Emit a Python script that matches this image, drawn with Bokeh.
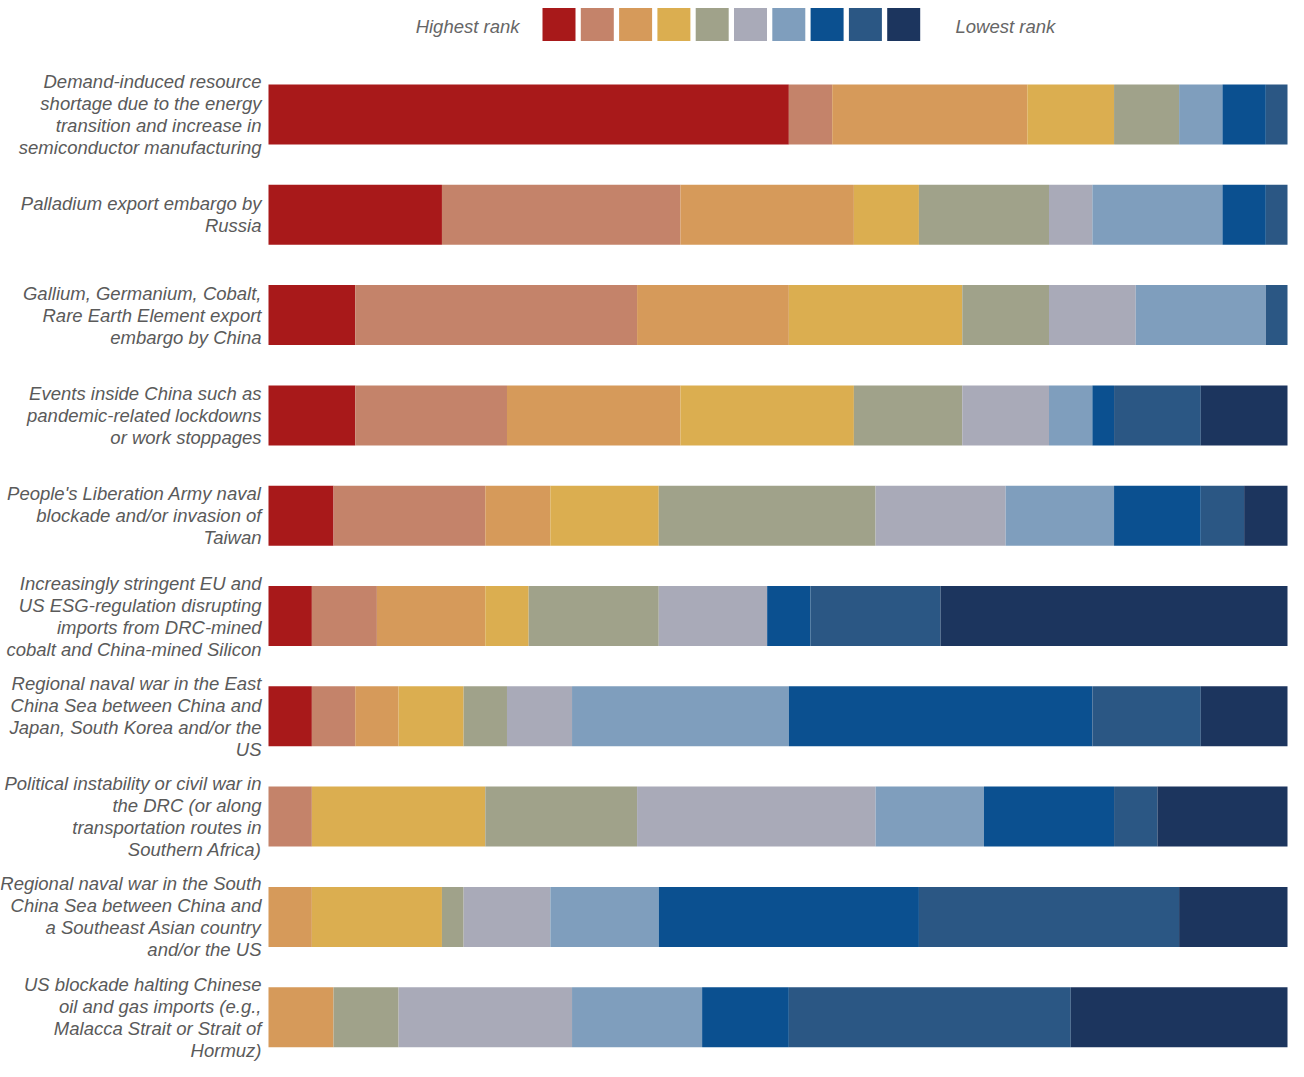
from bokeh.plotting import figure
from bokeh.models import Range1d, ColumnDataSource
from bokeh.core.properties import value
from bokeh.embed import file_html
from bokeh.resources import INLINE

# ---- data (respondent counts per rank, 47 respondents per risk) ----
risks = [
    ["Demand-induced resource", "shortage due to the energy", "transition and increase in", "semiconductor manufacturing"],
    ["Palladium export embargo by", "Russia"],
    ["Gallium, Germanium, Cobalt,", "Rare Earth Element export", "embargo by China"],
    ["Events inside China such as", "pandemic-related lockdowns", "or work stoppages"],
    ["People's Liberation Army naval", "blockade and/or invasion of", "Taiwan"],
    ["Increasingly stringent EU and", "US ESG-regulation disrupting", "imports from DRC-mined", "cobalt and China-mined Silicon"],
    ["Regional naval war in the East", "China Sea between China and", "Japan, South Korea and/or the", "US"],
    ["Political instability or civil war in", "the DRC (or along", "transportation routes in", "Southern Africa)"],
    ["Regional naval war in the South", "China Sea between China and", "a Southeast Asian country", "and/or the US"],
    ["US blockade halting Chinese", "oil and gas imports (e.g.,", "Malacca Strait or Strait of", "Hormuz)"],
]
rank1 = [24, 8, 4, 4, 3, 2, 2, 0, 0, 0]
rank2 = [2, 11, 13, 7, 7, 3, 2, 2, 0, 0]
rank3 = [9, 8, 7, 8, 3, 5, 2, 0, 2, 3]
rank4 = [4, 3, 8, 8, 5, 2, 3, 8, 6, 0]
rank5 = [3, 6, 4, 5, 10, 6, 2, 7, 1, 3]
rank6 = [0, 2, 4, 4, 6, 5, 3, 11, 4, 8]
rank7 = [2, 6, 6, 2, 5, 0, 10, 5, 5, 6]
rank8 = [2, 2, 0, 1, 4, 2, 14, 6, 12, 4]
rank9 = [1, 1, 1, 4, 2, 6, 5, 2, 12, 13]
rank10 = [0, 0, 0, 4, 2, 16, 4, 6, 5, 10]
legend_left = "Highest rank"
legend_right = "Lowest rank"

colors = ["#A8191A", "#C4836A", "#D69A5A", "#DBAE50", "#A0A28A",
          "#A9AAB8", "#7F9EBD", "#0B5090", "#2B5784", "#1C355E"]
rank_names = ["r%d" % i for i in range(1, 11)]
all_ranks = [rank1, rank2, rank3, rank4, rank5, rank6, rank7, rank8, rank9, rank10]
total = sum(r[0] for r in all_ranks)

# ---- layout ----
W, H = 1288, 1061
BAR_L, BAR_R = 268, 1287   # px of bar start / end
ROW0, ROW_STEP, BAR_H = 114, 100.3, 60
LINE_H = 22
FONT = "Liberation Sans"
TXT = "#5a5a5a"
FS = "18.5px"

scale = total / (BAR_R - BAR_L)
x_start = -BAR_L * scale
x_end = total + (W - BAR_R) * scale

p = figure(width=W, height=H, output_backend="svg", toolbar_location=None,
           x_range=Range1d(x_start, x_end), y_range=Range1d(H, 0),
           min_border=0, min_border_left=0, min_border_right=0,
           min_border_top=0, min_border_bottom=0)
p.extra_x_ranges = {"px": Range1d(0, W)}
p.axis.visible = False
p.grid.visible = False
p.outline_line_color = None
p.background_fill_color = "white"
p.border_fill_color = "white"

ys = [ROW0 + i * ROW_STEP for i in range(len(risks))]
data = {"y": ys}
for n, r in zip(rank_names, all_ranks):
    data[n] = r
src = ColumnDataSource(data)
p.hbar_stack(rank_names, y="y", height=BAR_H, color=colors, line_color=None, source=src)

# labels
lx, ly, lt = [], [], []
for yc, lines in zip(ys, risks):
    n = len(lines)
    for k, t in enumerate(lines):
        lx.append(261)
        ly.append(yc + (k - (n - 1) / 2) * LINE_H)
        lt.append(t)
p.text(x=lx, y=ly, text=lt, x_range_name="px", text_align="right", text_baseline="middle",
       text_font=value(FONT), text_font_style="italic", text_font_size=FS, text_color=TXT)

# legend
sq_x = [558.5 + 38.3 * k for k in range(10)]
p.rect(x=sq_x, y=[24] * 10, width=33, height=33, x_range_name="px",
       fill_color=colors, line_color=None)
p.text(x=[519], y=[26], text=[legend_left], x_range_name="px", text_align="right",
       text_baseline="middle", text_font=value(FONT), text_font_style="italic",
       text_font_size=FS, text_color="#666666")
p.text(x=[955], y=[26], text=[legend_right], x_range_name="px", text_align="left",
       text_baseline="middle", text_font=value(FONT), text_font_style="italic",
       text_font_size=FS, text_color="#666666")

open("out.html", "w").write(file_html(p, INLINE))
